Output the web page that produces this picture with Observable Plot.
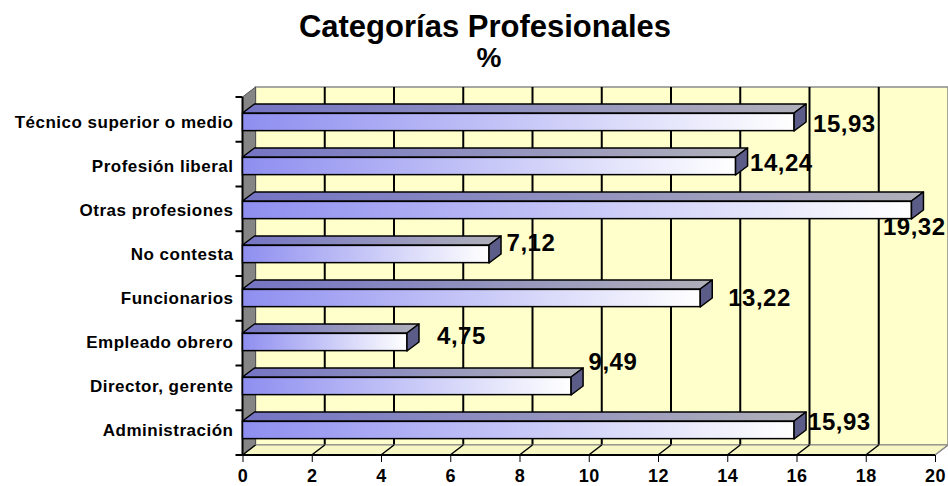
<!DOCTYPE html>
<html>
<head>
<meta charset="utf-8">
<script src="https://cdn.jsdelivr.net/npm/d3@7"></script>
<script src="https://cdn.jsdelivr.net/npm/@observablehq/plot@0.6"></script>
<style>
  html, body { margin: 0; padding: 0; background: #ffffff; }
  #wrap { position: relative; width: 948px; height: 486px; font-family: "Liberation Sans", Arial, sans-serif; }
  #head { position: relative; width: 948px; height: 80px; }
  .t1 { position: absolute; left: 0; width: 970px; top: 10.5px; text-align: center; font-weight: bold; font-size: 31px; line-height: 31px; }
  .t2 { position: absolute; left: 0; width: 978px; top: 44px; text-align: center; font-weight: bold; font-size: 28px; line-height: 28px; }
</style>
</head>
<body>
<div id="wrap">
  <div id="head">
    <div class="t1">Categorías Profesionales</div>
    <div class="t2">%</div>
  </div>
  <div id="chart"></div>
</div>
<script>
// ---- data ----
const categories = [
  "Técnico superior o medio",
  "Profesión liberal",
  "Otras profesiones",
  "No contesta",
  "Funcionarios",
  "Empleado obrero",
  "Director, gerente",
  "Administración"
];
const shares = [15.93, 14.24, 19.32, 7.12, 13.22, 4.75, 9.49, 15.93];
const xTicks = [0, 2, 4, 6, 8, 10, 12, 14, 16, 18, 20];

// ---- layout constants (not data) ----
const W = 948, H = 406;
const M = {top: 17, right: 13, bottom: 31, left: 242.5};
const WX = 13, WY = -10;   // wall depth offset
const BX = 12, BY = -9;    // bar depth offset
const BH = 18;             // bar front-face thickness
const labelNudge = [[18.5, 2], [14, -3], [-29, 17], [17, -11], [27.5, -0.6], [29.6, -6], [17, -24.5], [13.5, -8.5]];

const rows = categories.map((c, i) => ({category: c, value: shares[i]}));
const bandH = (H - M.top - M.bottom) / categories.length;
const inset = (bandH - BH) / 2;

function walls(index, scales, channels, dims) {
  const x = scales.x;
  const x0 = x(xTicks[0]), x1 = x(xTicks[xTicks.length - 1]);
  const yT = dims.marginTop, yB = dims.height - dims.marginBottom;
  const g = d3.create("svg:g");
  const defs = g.append("defs");
  const gf = defs.append("linearGradient").attr("id", "gFront").attr("x1", 0).attr("y1", 0).attr("x2", 1).attr("y2", 0);
  gf.append("stop").attr("offset", 0).attr("stop-color", "#8e8ef0");
  gf.append("stop").attr("offset", 1).attr("stop-color", "#ffffff");
  const gt = defs.append("linearGradient").attr("id", "gTop").attr("x1", 0).attr("y1", 0).attr("x2", 1).attr("y2", 0);
  gt.append("stop").attr("offset", 0).attr("stop-color", "#7474c4");
  gt.append("stop").attr("offset", 1).attr("stop-color", "#b0b0ba");
  // back wall
  g.append("rect").attr("x", x0 + WX).attr("y", yT + WY).attr("width", x1 - x0).attr("height", yB - yT)
    .attr("fill", "#ffffcc").attr("stroke", "#8a8a8a").attr("stroke-width", 1.5);
  // back gridlines
  xTicks.slice(1, -1).forEach(t => {
    g.append("line").attr("x1", x(t) + WX).attr("x2", x(t) + WX).attr("y1", yT + WY).attr("y2", yB + WY)
      .attr("stroke", "#000").attr("stroke-width", 2);
  });
  // left side wall
  g.append("path").attr("d", `M${x0},${yT}L${x0 + WX},${yT + WY}L${x0 + WX},${yB + WY}L${x0},${yB}Z`)
    .attr("fill", "#858585").attr("stroke", "#555").attr("stroke-width", 1);
  // floor
  g.append("path").attr("d", `M${x0},${yB}L${x0 + WX},${yB + WY}L${x1 + WX},${yB + WY}L${x1},${yB}Z`)
    .attr("fill", "#f7f7c4").attr("stroke", "#8a8a8a").attr("stroke-width", 1);
  xTicks.forEach((t, i) => {
    g.append("line").attr("x1", x(t)).attr("y1", yB).attr("x2", x(t) + WX).attr("y2", yB + WY)
      .attr("stroke", i === xTicks.length - 1 ? "#8a8a8a" : "#000").attr("stroke-width", 1.5);
  });
  // axis lines
  g.append("line").attr("x1", x0).attr("x2", x0).attr("y1", yT).attr("y2", yB).attr("stroke", "#000").attr("stroke-width", 2);
  g.append("line").attr("x1", x0).attr("x2", x1).attr("y1", yB).attr("y2", yB).attr("stroke", "#000").attr("stroke-width", 2);
  // category boundary ticks
  const bw = (yB - yT) / categories.length;
  for (let i = 0; i <= categories.length; i++) {
    const yy = yT + i * bw;
    g.append("line").attr("x1", x0 - 7).attr("x2", x0).attr("y1", yy).attr("y2", yy).attr("stroke", "#000").attr("stroke-width", 2);
  }
  return g.node();
}

function bar3d(index, scales, channels, dims) {
  const g = d3.create("svg:g");
  const bw = scales.y.bandwidth ? scales.y.bandwidth() : bandH;
  rows.forEach(d => {
    const yc = scales.y(d.category) + bw / 2;
    const top = yc - BH / 2, bot = yc + BH / 2;
    const xs = scales.x(0), xe = scales.x(d.value);
    g.append("path").attr("d", `M${xs},${top}L${xs + BX},${top + BY}L${xe + BX},${top + BY}L${xe},${top}Z`)
      .attr("fill", "url(#gTop)").attr("stroke", "#000").attr("stroke-width", 1.5).attr("stroke-linejoin", "round");
    g.append("path").attr("d", `M${xe},${top}L${xe + BX},${top + BY}L${xe + BX},${bot + BY}L${xe},${bot}Z`)
      .attr("fill", "#5c5c88").attr("stroke", "#000").attr("stroke-width", 1.5).attr("stroke-linejoin", "round");
  });
  return g.node();
}

const fmt = v => v.toFixed(2).replace(".", ",");

const labelMarks = rows.map((d, i) => Plot.text([d], {
  x: "value", y: "category", text: r => fmt(r.value),
  textAnchor: "start", dx: labelNudge[i][0], dy: labelNudge[i][1],
  fontSize: 24, fontWeight: "bold", fill: "#000"
}));

const xAxisMarks = Plot.axisX
  ? [Plot.axisX({ticks: xTicks, tickSize: 7, tickPadding: 7, fontSize: 18, tickFormat: d => String(d), label: null})]
  : [];

const chart = Plot.plot({
  width: W, height: H,
  marginTop: M.top, marginRight: M.right, marginBottom: M.bottom, marginLeft: M.left,
  x: {domain: [xTicks[0], xTicks[xTicks.length - 1]], ticks: 10, tickSize: 7, tickPadding: 7, label: null, tickFormat: d => String(d)},
  y: {domain: categories, padding: 0, tickSize: 0, tickPadding: 9.5, label: null},
  style: {fontFamily: "'Liberation Sans', Arial, sans-serif", fontSize: "17px", fontWeight: "bold", letterSpacing: "0.5px", color: "#000", background: "transparent", overflow: "visible"},
  marks: [
    walls,
    ...xAxisMarks,
    Plot.barX(rows, {x: "value", y: "category", insetTop: inset, insetBottom: inset, fill: "url(#gFront)", stroke: "#000", strokeWidth: 1.5}),
    bar3d,
    ...labelMarks
  ]
});
document.getElementById("chart").appendChild(chart);
</script>
</body>
</html>
